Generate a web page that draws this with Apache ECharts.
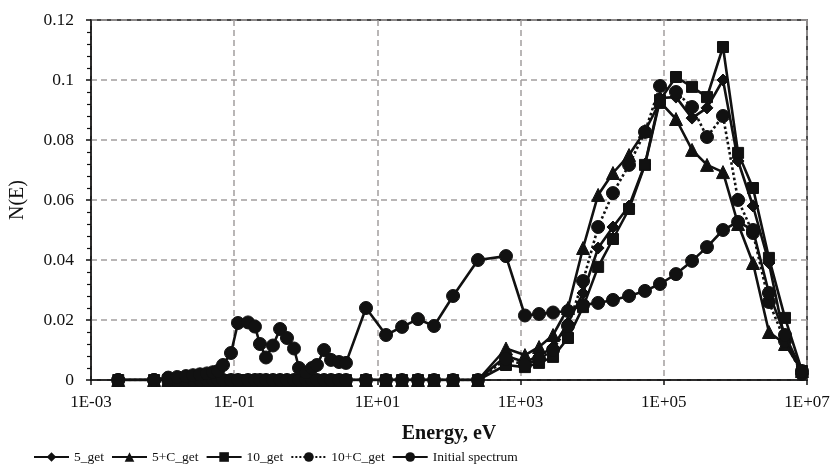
<!DOCTYPE html>
<html>
<head>
<meta charset="utf-8">
<script src="https://cdn.jsdelivr.net/npm/echarts@6/dist/echarts.min.js"></script>
<style>
  html, body { margin: 0; padding: 0; background: #fff; }
  #chart { width: 835px; height: 471px; }
</style>
</head>
<body>
<div id="chart"></div>
<script>
// energy grid, eV
const energy = [
  2.4e-3, 7.6e-3, 1.2e-2, 1.6e-2, 2.12e-2, 2.66e-2, 3.33e-2, 4.17e-2, 5.06e-2, 5.94e-2,
  6.98e-2, 9.02e-2, 0.113, 0.156, 0.195, 0.229, 0.278, 0.348, 0.437, 0.546,
  0.684, 0.804, 1.01, 1.22, 1.43, 1.80, 2.25, 2.91, 3.64, 6.93,
  13.2, 22.1, 36.9, 61.8, 114, 254, 625, 1150, 1810, 2840,
  4590, 7450, 1.21e4, 1.95e4, 3.27e4, 5.46e4, 8.85e4, 1.48e5, 2.48e5, 4.01e5,
  6.71e5, 1.09e6, 1.76e6, 2.94e6, 4.93e6, 8.51e6
];

const initialSpectrum = [
  0, 0, 0.0008, 0.001, 0.0013, 0.0016, 0.0019, 0.0022, 0.0026, 0.003,
  0.005, 0.009, 0.019, 0.0192, 0.0178, 0.012, 0.0075, 0.0115, 0.017, 0.014,
  0.0105, 0.004, 0.0025, 0.004, 0.005, 0.010, 0.0067, 0.006, 0.0057, 0.024,
  0.015, 0.0177, 0.0203, 0.018, 0.028, 0.040, 0.0413, 0.0215, 0.022, 0.0225,
  0.023, 0.025, 0.0257, 0.0267, 0.028, 0.0297, 0.032, 0.0353, 0.0397, 0.0443,
  0.050, 0.0527, 0.050, 0.029, 0.015, 0.003
];

// the *_get spectra are zero below ~250 eV
const zeros = new Array(36).fill(0);
const get5 = zeros.concat([
  0.008, 0.006, 0.008, 0.011, 0.019, 0.029, 0.044, 0.051, 0.058, 0.072,
  0.094, 0.0943, 0.0873, 0.0907, 0.100, 0.073, 0.058, 0.039, 0.013, 0.003
]);
const get5C = zeros.concat([
  0.0105, 0.0083, 0.011, 0.015, 0.024, 0.044, 0.0617, 0.069, 0.075, 0.083,
  0.0927, 0.087, 0.0767, 0.0717, 0.0693, 0.052, 0.039, 0.016, 0.012, 0.003
]);
const get10 = zeros.concat([
  0.005, 0.0043, 0.0057, 0.0077, 0.014, 0.0243, 0.0377, 0.047, 0.057, 0.0717,
  0.0933, 0.101, 0.0977, 0.0943, 0.111, 0.0757, 0.064, 0.0407, 0.0207, 0.003
]);
const get10C = zeros.concat([
  0.007, 0.005, 0.007, 0.010, 0.018, 0.033, 0.051, 0.0623, 0.0717, 0.0827,
  0.098, 0.096, 0.091, 0.081, 0.088, 0.060, 0.049, 0.026, 0.013, 0.002
]);

const seriesNames = ['5_get', '5+C_get', '10_get', '10+C_get', 'Initial spectrum'];
const seriesSymbols = ['diamond', 'triangle', 'rect', 'circle', 'circle'];
const symbolSizes = [12, 13, 11, 13, 13];
const seriesValues = [get5, get5C, get10, get10C, initialSpectrum];

const font = 'Liberation Serif';
const ink = '#111';
const gridColor = '#a39e9e';

const pairs = vals => energy.map((e, i) => [e, vals[i]]);

const chart = echarts.init(document.getElementById('chart'));
chart.setOption({
  animation: false,
  textStyle: { fontFamily: font, color: ink },
  grid: {
    left: 91, right: 28, top: 20, bottom: 91,
    show: true, borderColor: ink, borderWidth: 1.5
  },
  legend: {
    left: 33, top: 450, padding: 0,
    itemWidth: 35, itemHeight: 12, itemGap: 7,
    textStyle: { fontFamily: font, fontSize: 13.5, color: ink },
    data: seriesNames
  },
  xAxis: {
    type: 'log',
    logBase: 10,
    min: 0.001,
    max: 1e7,
    interval: 2,
    name: 'Energy, eV',
    nameLocation: 'middle',
    nameGap: 44,
    nameTextStyle: { fontFamily: font, fontSize: 20, fontWeight: 'bold', color: ink },
    axisLine: { lineStyle: { color: ink, width: 1.5 } },
    axisTick: { show: true, length: 5, lineStyle: { color: ink, width: 1.5 } },
    axisLabel: {
      fontFamily: font, fontSize: 17, color: ink, margin: 14,
      formatter: v => {
        const e = Math.round(Math.log10(v));
        return '1E' + (e < 0 ? '-' : '+') + String(Math.abs(e)).padStart(2, '0');
      }
    },
    splitLine: { show: true, lineStyle: { color: gridColor, width: 1.5, type: [6, 4] } }
  },
  yAxis: {
    type: 'value',
    min: 0,
    max: 0.12,
    interval: 0.02,
    name: 'N(E)',
    nameLocation: 'middle',
    nameGap: 63,
    nameTextStyle: { fontFamily: font, fontSize: 20, color: ink },
    axisLine: { show: true, lineStyle: { color: ink, width: 1.5 } },
    axisTick: { show: true, length: 5, lineStyle: { color: ink, width: 1.5 } },
    minorTick: { show: true, splitNumber: 5, length: 4, lineStyle: { color: ink, width: 1.2 } },
    axisLabel: { fontFamily: font, fontSize: 17.5, color: ink, margin: 17 },
    splitLine: { show: true, lineStyle: { color: gridColor, width: 1.5, type: [6, 4] } }
  },
  series: seriesNames.map((name, i) => ({
    name: name,
    type: 'line',
    data: pairs(seriesValues[i]),
    symbol: seriesSymbols[i],
    symbolSize: symbolSizes[i],
    showAllSymbol: true,
    lineStyle: { color: ink, width: 2.6, type: name === '10+C_get' ? 'dotted' : 'solid' },
    itemStyle: { color: ink, borderColor: ink },
    z: 2 + i
  }))
});
</script>
</body>
</html>
